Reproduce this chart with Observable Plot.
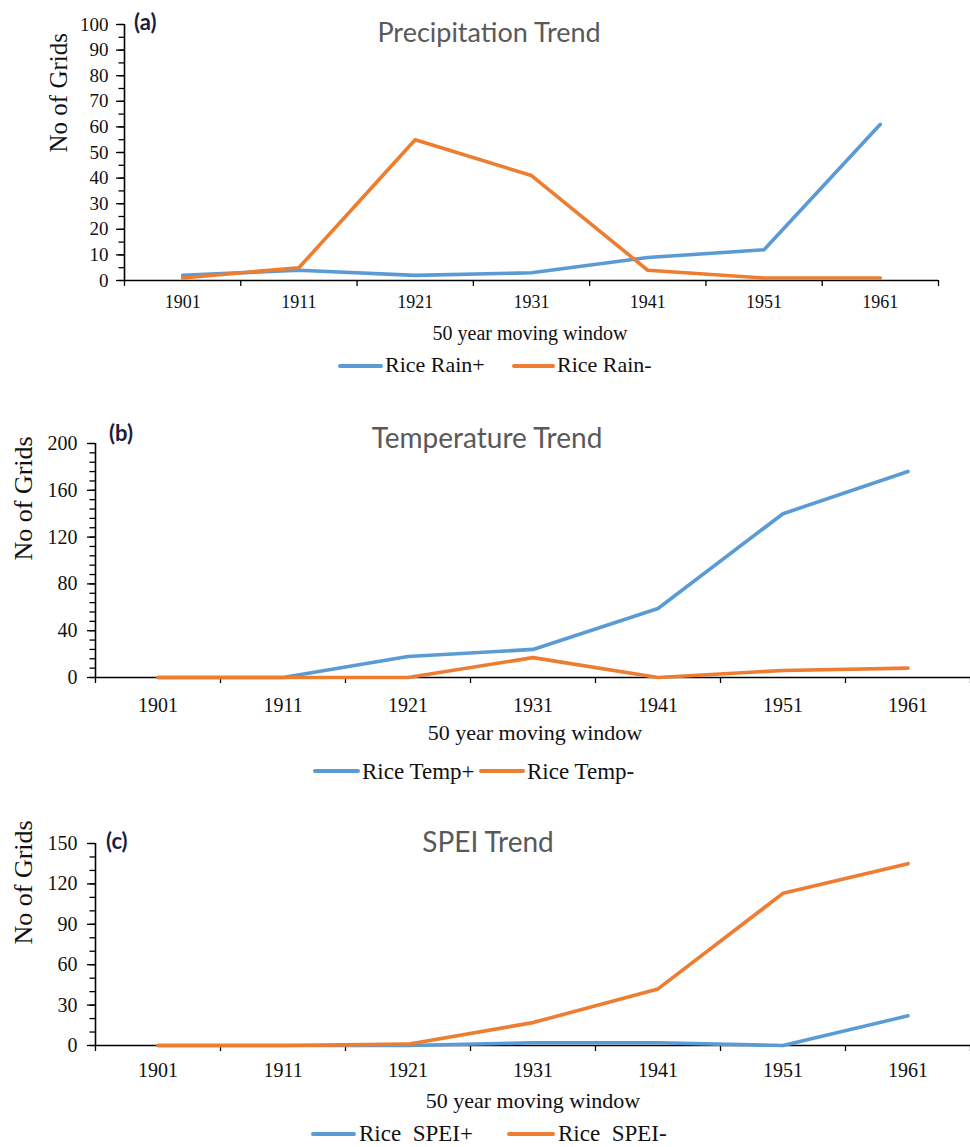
<!DOCTYPE html>
<html>
<head>
<meta charset="utf-8">
<script src="https://cdn.jsdelivr.net/npm/d3@7"></script>
<script src="https://cdn.jsdelivr.net/npm/@observablehq/plot@0.6"></script>
<style>
  html, body { margin: 0; padding: 0; background: #fff; }
  #root { position: relative; width: 970px; height: 1147px; overflow: hidden; background: #fff; }
  #root > svg { position: absolute; left: 0; }
  .t { position: absolute; line-height: 1; white-space: pre; }
  .sw { position: absolute; height: 4px; border-radius: 2px; }
</style>
</head>
<body>
<div id="root"></div>
<script>
// ---------- data ----------
const years = [1901, 1911, 1921, 1931, 1941, 1951, 1961];
const xBounds = [1896, 1906, 1916, 1926, 1936, 1946, 1956, 1966];

const rainPos = [2, 4, 2, 3, 9, 12, 61];
const rainNeg = [1, 5, 55, 41, 4, 1, 1];
const tempPos = [0, 0, 18, 24, 59, 140, 176];
const tempNeg = [0, 0, 0, 17, 0, 6, 8];
const speiPos = [0, 0, 0, 2, 2, 0, 22];
const speiNeg = [0, 0, 1, 17, 42, 113, 135];

const yTicksA = [0, 10, 20, 30, 40, 50, 60, 70, 80, 90, 100];
const yTicksB = [0, 40, 80, 120, 160, 200];
const yTicksC = [0, 30, 60, 90, 120, 150];

const titles = ["Precipitation Trend", "Temperature Trend", "SPEI Trend"];
const letters = ["(a)", "(b)", "(c)"];
const seriesA = ["Rice Rain+", "Rice Rain-"];
const seriesB = ["Rice Temp+", "Rice Temp-"];
const seriesC = ["Rice  SPEI+", "Rice  SPEI-"];
const yLabel = "No of Grids";
const xLabel = "50 year moving window";

const blue = "#5B9BD5", orange = "#ED7D31";

// ---------- layout (styles only) ----------
const panels = [
  { top: 0, height: 320, mt: 24, mb: 40, ml: 124, mr: 32, domain: [0, 100], ticks: yTicksA, minor: 5,
    pos: rainPos, neg: rainNeg, names: seriesA,
    yFont: 19, xFont: 18, xPad: 15, yPad: 8, yLabFont: 25, yLabX: 58,
    title: { x: 489, base: 42, size: 27 }, letter: { x: 134, base: 31, size: 22 },
    xt: { x: 530, base: 340, size: 20 },
    leg: { base: 372, size: 22, lineY: 366, items: [[338, 383, 385], [512, 555, 557]] } },
  { top: 400, height: 320, mt: 43, mb: 43, ml: 95, mr: 0, domain: [0, 200], ticks: yTicksB, minor: 8,
    pos: tempPos, neg: tempNeg, names: seriesB,
    yFont: 20, xFont: 20, xPad: 20, yPad: 10, yLabFont: 26, yLabX: 23,
    title: { x: 487, base: 448, size: 28 }, letter: { x: 109, base: 442, size: 22 },
    xt: { x: 535, base: 740, size: 22 },
    leg: { base: 779, size: 23, lineY: 771, items: [[313, 360, 362], [479, 525, 527]] } },
  { top: 800, height: 290, mt: 43, mb: 45, ml: 95, mr: 0, domain: [0, 150], ticks: yTicksC, minor: 10,
    pos: speiPos, neg: speiNeg, names: seriesC,
    yFont: 20, xFont: 20, xPad: 17, yPad: 10, yLabFont: 26, yLabX: 23,
    title: { x: 488, base: 852, size: 28 }, letter: { x: 106, base: 850, size: 22 },
    xt: { x: 533, base: 1108, size: 22 },
    leg: { base: 1141, size: 23, lineY: 1134, items: [[311, 356, 359], [507, 555, 558]] } }
];

const root = document.getElementById("root");
const serif = "'Liberation Serif', 'Times New Roman', serif";
const sans = "Lato, 'Open Sans', sans-serif";

function text(str, x, base, size, opts = {}) {
  const d = document.createElement("div");
  d.className = "t";
  d.textContent = str;
  const k = opts.family === sans ? 0.887 : 0.8375;
  d.style.left = x + "px";
  d.style.top = (base - k * size) + "px";
  d.style.fontSize = size + "px";
  d.style.fontFamily = opts.family || serif;
  d.style.fontWeight = opts.weight || "normal";
  d.style.color = opts.color || "#000";
  if (opts.center) d.style.transform = "translateX(-50%)";
  root.appendChild(d);
}

function swatch(x0, x1, y, color) {
  const d = document.createElement("div");
  d.className = "sw";
  d.style.left = x0 + "px";
  d.style.width = (x1 - x0) + "px";
  d.style.top = (y - 2) + "px";
  d.style.background = color;
  root.appendChild(d);
}

panels.forEach((p, idx) => {
  const rows = [];
  years.forEach((yr, i) => rows.push({ year: yr, value: p.pos[i], series: p.names[0] }));
  years.forEach((yr, i) => rows.push({ year: yr, value: p.neg[i], series: p.names[1] }));

  const minorTicks = d3.range(p.domain[0], p.domain[1] + 0.001, p.minor);

  const chart = Plot.plot({
    width: 970,
    height: p.height,
    marginTop: p.mt,
    marginBottom: p.mb,
    marginLeft: p.ml,
    marginRight: p.mr,
    style: { fontFamily: serif, fontSize: "18px", color: "#000", background: "#fff", overflow: "visible" },
    x: { type: "linear", domain: [xBounds[0], xBounds[xBounds.length - 1]], axis: null },
    y: { domain: p.domain, axis: null },
    color: { domain: p.names, range: [blue, orange] },
    marks: [
      Plot.axisY({ ticks: minorTicks, tickSize: 5.5, tickFormat: () => "", label: null, stroke: "#000", strokeWidth: 1.3 }),
      Plot.axisY({ ticks: p.ticks, tickSize: 8, tickPadding: p.yPad, fontSize: p.yFont, label: null, stroke: "#000", strokeWidth: 1.3, fill: "#111" }),
      Plot.axisX({ ticks: xBounds, tickSize: 6, tickFormat: () => "", label: null, stroke: "#000", strokeWidth: 1.3 }),
      Plot.axisX({ ticks: years, tickSize: 0, tickPadding: p.xPad, fontSize: p.xFont, tickFormat: d => String(d), label: null, fill: "#111" }),
      Plot.ruleX([xBounds[0]], { stroke: "#000", strokeWidth: 1.6 }),
      Plot.ruleY([p.domain[0]], { stroke: "#000", strokeWidth: 1.6 }),
      Plot.line(rows, { x: "year", y: "value", z: "series", stroke: "series", strokeWidth: 3.6, strokeLinecap: "round", strokeLinejoin: "round" }),
      Plot.text([yLabel], { frameAnchor: "left", rotate: -90, dx: p.yLabX - p.ml, fontSize: p.yLabFont, fill: "#111" })
    ]
  });
  chart.style.top = p.top + "px";
  root.appendChild(chart);

  text(titles[idx], p.title.x, p.title.base, p.title.size, { family: sans, color: "#595959", center: true });
  text(letters[idx], p.letter.x, p.letter.base, p.letter.size, { family: sans, weight: "bold", color: "#1c1c3e" });
  text(xLabel, p.xt.x, p.xt.base, p.xt.size, { center: true, color: "#111" });

  const colors = [blue, orange];
  p.leg.items.forEach((it, j) => {
    swatch(it[0], it[1], p.leg.lineY, colors[j]);
    text(p.names[j], it[2], p.leg.base, p.leg.size, { color: "#111" });
  });
});
</script>
</body>
</html>
